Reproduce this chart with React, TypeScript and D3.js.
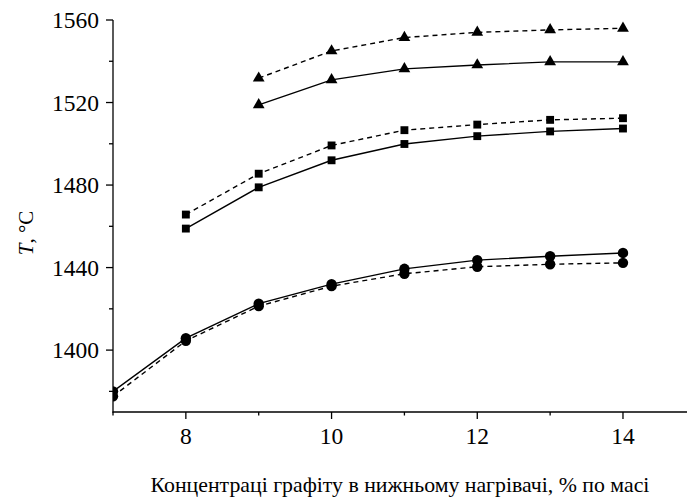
import * as d3 from "d3";
import { useEffect, useRef } from "react";

// concentration, % by mass
const circleX = [7, 8, 9, 10, 11, 12, 13, 14];
const circleSolid = [1380, 1405.8, 1422.5, 1432, 1439.4, 1443.6, 1445.5, 1447.1];
const circleDashed = [1377.6, 1404.5, 1421.3, 1431, 1437, 1440.4, 1441.6, 1442.3];

const squareX = [8, 9, 10, 11, 12, 13, 14];
const squareSolid = [1458.9, 1478.9, 1492, 1499.9, 1503.7, 1506, 1507.4];
const squareDashed = [1465.7, 1485.5, 1499.2, 1506.6, 1509.3, 1511.6, 1512.4];

const triangleX = [9, 10, 11, 12, 13, 14];
const triangleSolid = [1518.9, 1531, 1536.3, 1538.2, 1539.7, 1539.7];
const triangleDashed = [1531.8, 1545, 1551.5, 1554, 1555.2, 1556];

const xTickValues = [8, 10, 12, 14];
const xMinorTicks = [7, 9, 11, 13];
const yTickValues = [1400, 1440, 1480, 1520, 1560];
const yMinorTicks = [1380, 1420, 1460, 1500, 1540];

const xLabel = "Концентраці графіту в нижньому нагрівачі, % по масі";

const FONT = "Liberation Serif";

export default function App() {
  const svgRef = useRef<SVGSVGElement | null>(null);

  useEffect(() => {
    const svg = d3.select(svgRef.current);
    svg.selectChildren().remove();

    const x = d3.scaleLinear().domain([7, 14.865]).range([113, 686]);
    const y = d3.scaleLinear().domain([1370, 1560]).range([412, 20]);

    svg
      .append("defs")
      .append("clipPath")
      .attr("id", "plot-clip")
      .append("rect")
      .attr("x", 113)
      .attr("y", 0)
      .attr("width", 574)
      .attr("height", 412);

    const plot = svg.append("g").attr("clip-path", "url(#plot-clip)");

    const series = [
      { xs: circleX, ys: circleSolid, dash: null, symbol: d3.symbolCircle, size: 85 },
      { xs: circleX, ys: circleDashed, dash: "5,4", symbol: d3.symbolCircle, size: 85 },
      { xs: squareX, ys: squareSolid, dash: null, symbol: d3.symbolSquare, size: 62 },
      { xs: squareX, ys: squareDashed, dash: "5,4", symbol: d3.symbolSquare, size: 62 },
      { xs: triangleX, ys: triangleSolid, dash: null, symbol: d3.symbolTriangle, size: 60 },
      { xs: triangleX, ys: triangleDashed, dash: "5,4", symbol: d3.symbolTriangle, size: 60 },
    ];

    const line = d3
      .line<[number, number]>()
      .x((d) => x(d[0]))
      .y((d) => y(d[1]));

    series.forEach((s) => {
      const pts: [number, number][] = s.xs.map((v, i) => [v, s.ys[i]]);
      plot
        .append("path")
        .attr("d", line(pts))
        .attr("fill", "none")
        .attr("stroke", "#000")
        .attr("stroke-width", 1.4)
        .attr("stroke-dasharray", s.dash);

      plot
        .selectAll(null)
        .data(pts)
        .enter()
        .append("path")
        .attr("d", d3.symbol().type(s.symbol).size(s.size)())
        .attr("transform", (d) => `translate(${x(d[0])},${y(d[1])})`)
        .attr("fill", "#000");
    });

    const axes = svg.append("g").attr("stroke", "#000").attr("stroke-width", 1.3);

    // x axis
    axes.append("line").attr("x1", 112.5).attr("x2", 687).attr("y1", 412).attr("y2", 412);
    xTickValues.forEach((v) => {
      axes.append("line").attr("x1", x(v)).attr("x2", x(v)).attr("y1", 412).attr("y2", 419);
    });
    xMinorTicks.forEach((v) => {
      axes.append("line").attr("x1", x(v)).attr("x2", x(v)).attr("y1", 412).attr("y2", 415.5);
    });

    // y axis
    axes.append("line").attr("x1", 113).attr("x2", 113).attr("y1", 20).attr("y2", 412.5);
    yTickValues.forEach((v) => {
      axes.append("line").attr("x1", 106).attr("x2", 113).attr("y1", y(v)).attr("y2", y(v));
    });
    yMinorTicks.forEach((v) => {
      axes.append("line").attr("x1", 109).attr("x2", 113).attr("y1", y(v)).attr("y2", y(v));
    });

    const labels = svg.append("g").style("font-family", FONT);

    labels
      .selectAll(null)
      .data(xTickValues)
      .enter()
      .append("text")
      .attr("x", (d) => x(d))
      .attr("y", 444)
      .attr("text-anchor", "middle")
      .attr("font-size", 23.5)
      .attr("fill", "#000")
      .text((d) => d);

    labels
      .selectAll(null)
      .data(yTickValues)
      .enter()
      .append("text")
      .attr("x", 99)
      .attr("y", (d) => y(d))
      .attr("dy", "0.35em")
      .attr("text-anchor", "end")
      .attr("font-size", 23.5)
      .attr("fill", "#000")
      .text((d) => d);

    const yTitle = labels
      .append("text")
      .attr("transform", "translate(33,233) rotate(-90)")
      .attr("text-anchor", "middle")
      .attr("font-size", 21)
      .attr("fill", "#000");
    yTitle.append("tspan").attr("font-style", "italic").attr("fill", "#000").text("T");
    yTitle.append("tspan").attr("fill", "#000").text(", °C");

    labels
      .append("text")
      .attr("x", 400)
      .attr("y", 492)
      .attr("text-anchor", "middle")
      .attr("font-size", 21.8)
      .attr("fill", "#000")
      .text(xLabel);
  }, []);

  return (
    <svg
      ref={svgRef}
      width={687}
      height={499}
      style={{ position: "absolute", left: 0, top: 0, background: "#fff" }}
    />
  );
}
